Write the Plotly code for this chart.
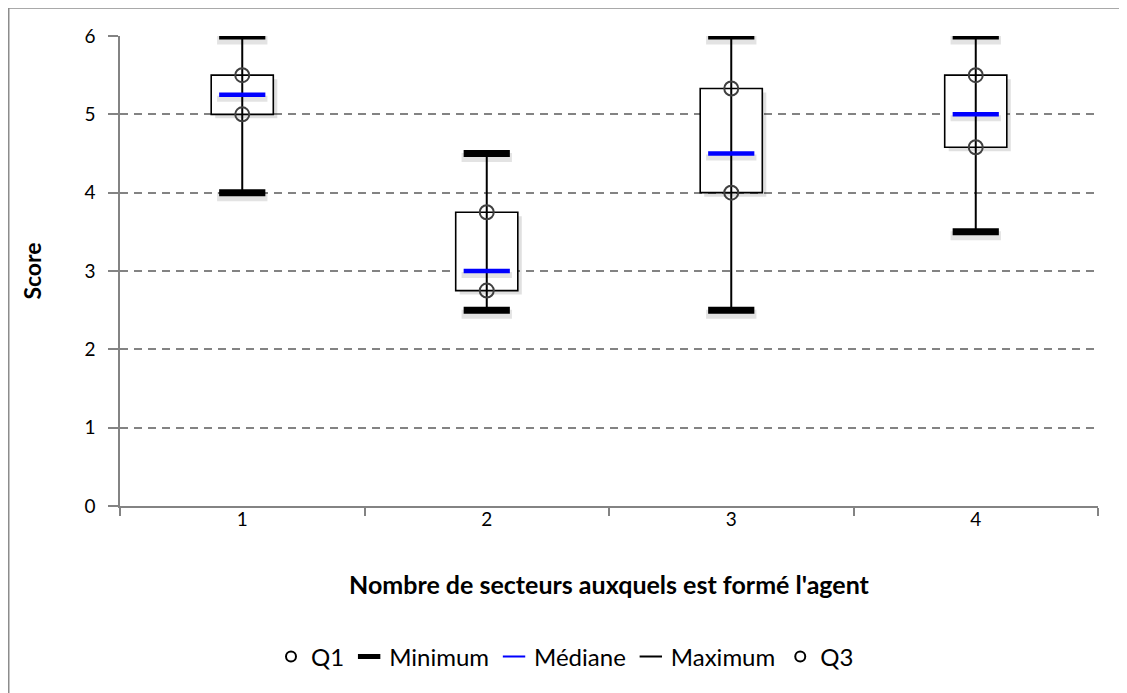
import plotly.graph_objects as go

# ---- data ----
categories = ["1", "2", "3", "4"]
minimum = [4.0, 2.5, 2.5, 3.5]
q1 = [5.0, 2.75, 4.0, 4.58]
median = [5.25, 3.0, 4.5, 5.0]
q3 = [5.5, 3.75, 5.33, 5.5]
maximum = [6.0, 4.5, 6.0, 6.0]
y_ticks = [0, 1, 2, 3, 4, 5, 6]

FONT = "Lato, Calibri, Carlito, sans-serif"
GRID = "#838383"

# page body has an 8px margin -> figure is drawn offset by 8px
OFF = 8
W, H = 1119, 685
ML, MR, MT, MB = 112, 29, 28, 187
PW = W - ML - MR
PH = H - MT - MB


def px_x(p):  # screen px -> paper x
    return (p - OFF - ML) / PW


def px_y(p):  # screen px -> paper y
    return (H - MB - (p - OFF)) / PH


Y_PER_PX = 6.0 / PH
CAT_PER_PX = 1.0 / (PW / 4.0)
BOX_W = 0.254

fig = go.Figure()

# box shadow
fig.add_trace(go.Bar(
    x=categories,
    y=[b - a for a, b in zip(q1, q3)],
    base=[a - 4 * Y_PER_PX for a in q1],
    width=BOX_W,
    offset=-BOX_W / 2 + 4 * CAT_PER_PX,
    marker=dict(color="rgba(0,0,0,0.12)", line=dict(width=0)),
    showlegend=False, hoverinfo="skip",
))

# box (Q1 -> Q3)
fig.add_trace(go.Bar(
    x=categories,
    y=[b - a for a, b in zip(q1, q3)],
    base=q1,
    width=BOX_W,
    offset=-BOX_W / 2,
    marker=dict(color="white", line=dict(color="black", width=1.6)),
    showlegend=False,
    hoverinfo="skip",
))

# whiskers (min -> max)
wx, wy = [], []
for c, lo, hi in zip(categories, minimum, maximum):
    wx += [c, c, None]
    wy += [lo, hi, None]
fig.add_trace(go.Scatter(
    x=wx, y=wy, mode="lines",
    line=dict(color="black", width=2),
    showlegend=False, hoverinfo="skip",
))

# shadows of min / max / median dashes
for vals, w in ((minimum, 9), (maximum, 9), (median, 6)):
    fig.add_trace(go.Scatter(
        x=categories, y=[v - 4 * Y_PER_PX for v in vals], mode="markers",
        marker=dict(symbol="line-ew", size=36, color="rgba(0,0,0,0.11)",
                    line=dict(color="rgba(0,0,0,0.11)", width=w)),
        showlegend=False, hoverinfo="skip",
    ))

# min / max thick dashes
for vals in (minimum, maximum):
    fig.add_trace(go.Scatter(
        x=categories, y=vals, mode="markers",
        marker=dict(symbol="line-ew", size=33, color="black",
                    line=dict(color="black", width=7)),
        showlegend=False,
    ))

# median
fig.add_trace(go.Scatter(
    x=categories, y=median, mode="markers",
    marker=dict(symbol="line-ew", size=33, color="#0000ff",
                line=dict(color="#0000ff", width=4.5)),
    showlegend=False,
))

# Q1 / Q3 open circles
for vals in (q1, q3):
    fig.add_trace(go.Scatter(
        x=categories, y=vals, mode="markers",
        marker=dict(symbol="circle-open", size=14, color="#404040",
                    line=dict(color="#404040", width=2)),
        showlegend=False,
    ))

# legend-only entries
fig.add_trace(go.Scatter(x=[None], y=[None], mode="markers", name="Q1",
                         marker=dict(symbol="circle-open", size=10, color="black",
                                     line=dict(width=2, color="black"))))
fig.add_trace(go.Scatter(x=[None], y=[None], mode="markers", name="Minimum",
                         marker=dict(symbol="line-ew", size=16, color="black",
                                     line=dict(width=5, color="black"))))
fig.add_trace(go.Scatter(x=[None], y=[None], mode="markers", name="Médiane",
                         marker=dict(symbol="line-ew", size=16, color="#0000ff",
                                     line=dict(width=2, color="#0000ff"))))
fig.add_trace(go.Scatter(x=[None], y=[None], mode="markers", name="Maximum",
                         marker=dict(symbol="line-ew", size=16, color="black",
                                     line=dict(width=2, color="black"))))
fig.add_trace(go.Scatter(x=[None], y=[None], mode="markers", name="Q3",
                         marker=dict(symbol="circle-open", size=10, color="black",
                                     line=dict(width=2, color="black"))))

fig.update_layout(
    width=W, height=H,
    margin=dict(l=ML, r=MR, t=MT, b=MB, autoexpand=False),
    paper_bgcolor="white", plot_bgcolor="white",
    font=dict(family=FONT, color="black", size=19),
    showlegend=True,
    legend=dict(orientation="h", x=px_x(565), xanchor="center",
                y=px_y(657), yanchor="middle",
                font=dict(size=24, family=FONT, color="black"),
                bgcolor="rgba(0,0,0,0)", itemclick=False),
    xaxis=dict(
        type="category", categoryorder="array", categoryarray=categories,
        range=[-0.5, 3.5], tickson="boundaries",
        showline=True, linecolor=GRID, linewidth=1.5,
        ticks="outside", ticklen=8, tickwidth=1.5, tickcolor=GRID,
        ticklabelstandoff=-5,
        showgrid=False, zeroline=False,
        tickfont=dict(size=19),
        title=dict(text="<b>Nombre de secteurs auxquels est formé l'agent</b>",
                   font=dict(size=25), standoff=48),
    ),
    yaxis=dict(
        range=[0, 6], tickvals=y_ticks,
        showline=True, linecolor=GRID, linewidth=1.5,
        ticks="outside", ticklen=10, tickwidth=1.5, tickcolor=GRID,
        ticklabelstandoff=9,
        showgrid=True, gridcolor=GRID, gridwidth=1.6, griddash="8px,6px",
        zeroline=False,
        tickfont=dict(size=19),
        title=dict(text="<b>Score</b>", font=dict(size=23), standoff=36),
    ),
    shapes=[
        dict(type="line", xref="paper", yref="paper", x0=px_x(8.75), x1=px_x(8.75),
             y0=px_y(7), y1=px_y(700), line=dict(color="#8c8c8c", width=1.5)),
        dict(type="line", xref="paper", yref="paper", x0=px_x(8), x1=px_x(1130),
             y0=px_y(8.0), y1=px_y(8.0), line=dict(color="#8c8c8c", width=1.5)),
        dict(type="line", xref="paper", yref="paper", x0=px_x(1126), x1=px_x(1126),
             y0=px_y(7), y1=px_y(700), line=dict(color="#dcdcdc", width=1)),
    ],
)

fig.write_html("out.html")
